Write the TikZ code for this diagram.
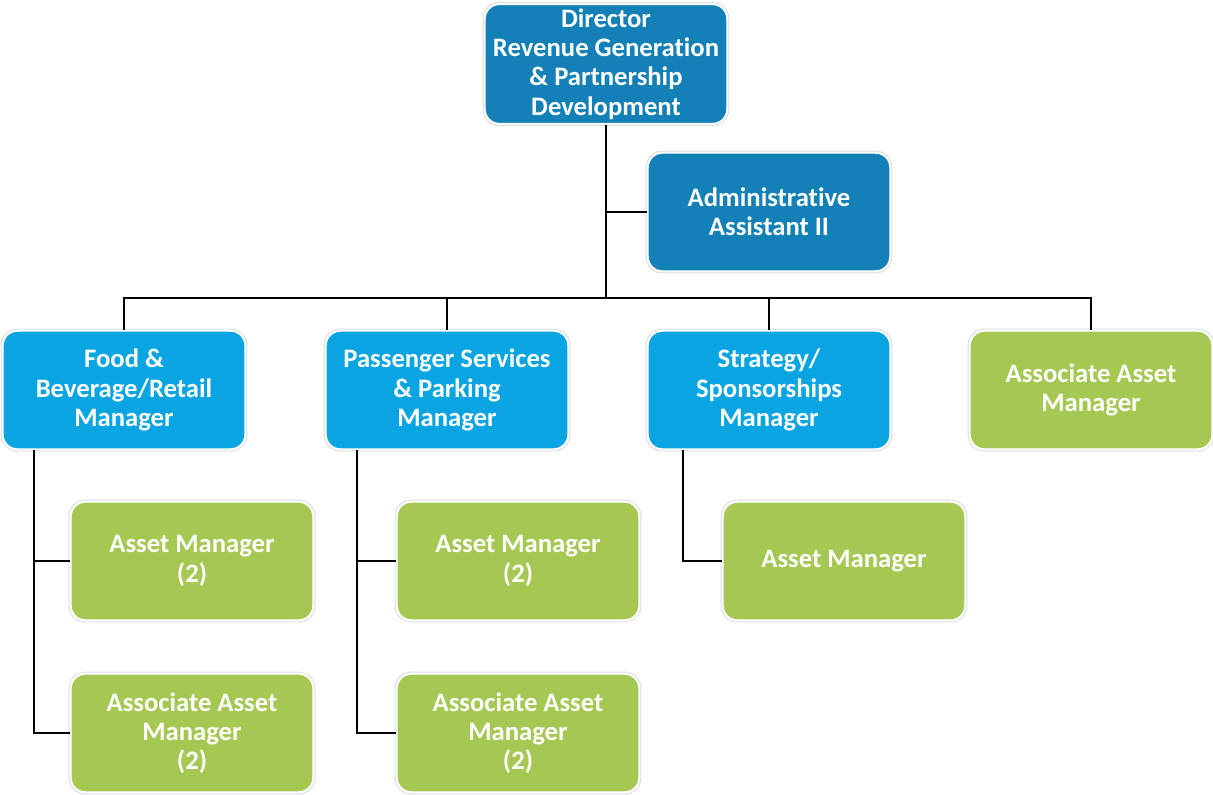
\documentclass[tikz,border=0pt]{standalone}
\usepackage{fontspec}
\setmainfont{Carlito}[Ligatures=NoCommon]
\usepackage{tikz}
\usetikzlibrary{positioning}
\definecolor{topblue}{HTML}{1380B7}
\definecolor{midblue}{HTML}{09A5E2}
\definecolor{leaf}{HTML}{A5C853}
\definecolor{rim}{HTML}{DADDE0}
\begin{document}
\begin{tikzpicture}[
  x=0.75pt,y=-0.75pt,
  box/.style={rounded corners=11pt,minimum width=182pt,minimum height=89pt,
              draw=white,line width=1.6pt,preaction={draw=rim,line width=3.2pt},
              text=white,align=center,
              font=\fontsize{20}{22}\selectfont\bfseries},
  head/.style={box,fill=topblue},
  mgr/.style={box,fill=midblue},
  staff/.style={box,fill=leaf},
  link/.style={draw=black,line width=1.5pt}
]
\useasboundingbox (0,0) rectangle (1213,794);
\coordinate (bus) at (606,298);

% boxes
\node[head] (dir) at (606,64) {Director\\Revenue Generation\\\& Partnership\\Development};
\node[head] (adm) at (769,212) {Administrative\\Assistant II};
\node[mgr] (fb) at (124,390) {Food \&\\Beverage/Retail\\Manager};
\node[mgr] (ps) at (447,390) {Passenger Services\\\& Parking\\Manager};
\node[mgr] (st) at (769,390) {Strategy/\\Sponsorships\\Manager};
\node[staff] (aam) at (1091,390) {Associate Asset\\Manager};
\node[staff] (am1) at (192,561) {Asset Manager\\(2)};
\node[staff] (aa1) at (192,733) {Associate Asset\\Manager\\(2)};
\node[staff] (am2) at (518,561) {Asset Manager\\(2)};
\node[staff] (aa2) at (518,733) {Associate Asset\\Manager\\(2)};
\node[staff] (am3) at (844,561) {Asset Manager};

% reporting lines
\draw[link] (dir.south) -- (bus);
\draw[link] (dir.south |- adm.west) -- (adm.west);
\draw[link] (fb.north) -- (fb.north |- bus) -- (aam.north |- bus) -- (aam.north);
\draw[link] (ps.north) -- (ps.north |- bus);
\draw[link] (st.north) -- (st.north |- bus);

\draw[link] ([xshift=-67.5pt]fb.south) |- (aa1.west);
\draw[link] ([xshift=-67.5pt]fb.south |- am1.west) -- (am1.west);
\draw[link] ([xshift=-67.5pt]ps.south) |- (aa2.west);
\draw[link] ([xshift=-67.5pt]ps.south |- am2.west) -- (am2.west);
\draw[link] ([xshift=-64.5pt]st.south) |- (am3.west);
\end{tikzpicture}
\end{document}
